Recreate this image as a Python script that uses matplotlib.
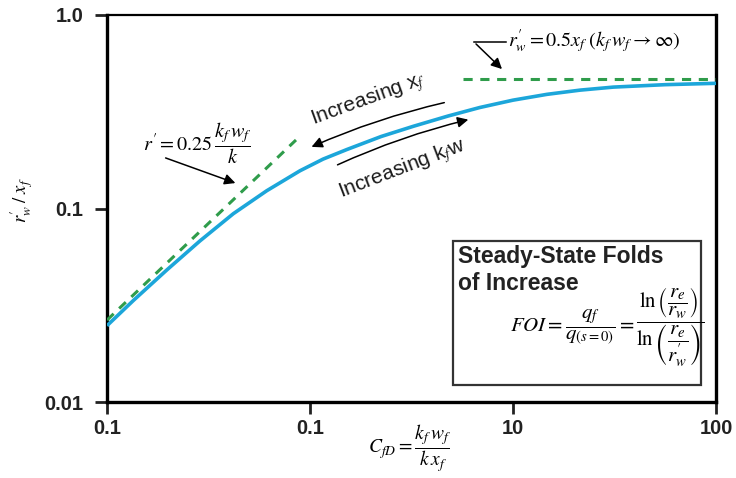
import matplotlib
matplotlib.use("Agg")
import matplotlib.pyplot as plt

# values
cfd_vals = [0.1, 0.135, 0.197, 0.287, 0.419, 0.612, 0.893, 1.16, 1.52, 2.24, 3.23,
            4.79, 6.87, 10.0, 14.7, 21.4, 31.2, 56.2, 100.0]
rw_vals = [0.0248, 0.0335, 0.0481, 0.068, 0.094, 0.1235, 0.1567, 0.180, 0.2018, 0.2355, 0.266,
           0.3006, 0.3327, 0.363, 0.389, 0.409, 0.424, 0.4365, 0.4436]

# asymptotes
low_cfd = [0.1, 0.853]
low_rw = [0.0265, 0.226]
high_cfd = [5.7, 100.0]
high_rw = [0.467, 0.467]

x_ticks = [0.1, 1, 10, 100]
x_labels = ["0.1", "0.1", "10", "100"]
y_ticks = [0.01, 0.1, 1.0]
y_labels = ["0.01", "0.1", "1.0"]

plt.rcParams["mathtext.fontset"] = "stix"
plt.rcParams["font.family"] = ["Liberation Sans", "DejaVu Sans"]

fig = plt.figure(figsize=(7.36, 4.78), dpi=100)
ax = fig.add_axes([107 / 736, 1 - 402 / 478, 609 / 736, 387 / 478])


def px(x, y):
    # pixel position in the figure -> axes fraction
    return ((x - 107) / 609, (402 - y) / 387)


ax.plot(cfd_vals, rw_vals, color="#1ca6da", lw=2.6, zorder=3, solid_capstyle="butt")
ax.plot(low_cfd, low_rw, color="#2f9c4b", lw=2.2, ls=(0, (3, 2.5)), zorder=4)
ax.plot(high_cfd, high_rw, color="#2f9c4b", lw=2.2, ls=(0, (3, 2.5)), zorder=4)

ax.set_xscale("log")
ax.set_yscale("log")
ax.set_xlim(0.1, 100)
ax.set_ylim(0.01, 1.0)
ax.set_xticks(x_ticks)
ax.set_xticklabels(x_labels)
ax.set_yticks(y_ticks)
ax.set_yticklabels(y_labels)
ax.minorticks_off()
ax.tick_params(direction="out", length=8.5, width=2, labelsize=14.5, colors="#222222")
ax.tick_params(axis="y", pad=8.5)
ax.tick_params(axis="x", pad=4)
for lab in ax.get_xticklabels() + ax.get_yticklabels():
    lab.set_fontweight("bold")
for side in ["left", "bottom", "right"]:
    ax.spines[side].set_linewidth(2.4)
ax.spines["top"].set_linewidth(1.6)

fig.text(410 / 736, 1 - 448 / 478, r"$C_{fD}=\dfrac{k_f\,w_f}{k\,x_f}$", fontsize=14,
         ha="center", va="center")
fig.text(22 / 736, 1 - 200 / 478, r"$r^{\prime}_{w}\;/\;x_f$", fontsize=13.5, rotation=90,
         ha="center", va="center")

arrow = dict(arrowstyle="-|>", color="black", lw=1.1, mutation_scale=16)

# low CfD asymptote label
ax.text(*px(197, 143), r"$r^{\prime}=0.25\,\dfrac{k_f\,w_f}{k}$", transform=ax.transAxes,
        fontsize=14.5, ha="center", va="center")
ax.annotate("", xy=px(238, 184), xytext=px(163, 157), xycoords="axes fraction",
            textcoords="axes fraction", arrowprops=arrow)

# high CfD asymptote label
ax.text(*px(508, 41), r"$r^{\prime}_{w}=0.5x_f\;(k_f\,w_f\rightarrow\infty)$", transform=ax.transAxes,
        fontsize=14.5, ha="left", va="center")
ax.plot(*zip(px(506, 42), px(474, 42)), transform=ax.transAxes, color="black", lw=1.1)
ax.annotate("", xy=px(504, 71), xytext=px(474, 42), xycoords="axes fraction",
            textcoords="axes fraction", arrowprops=arrow)

# increasing arrows
ax.text(*px(369, 100), r"Increasing x$_f$", transform=ax.transAxes, fontsize=15,
        rotation=20, ha="center", va="center", color="#1a1a1a")
ax.annotate("", xy=px(309, 148), xytext=px(447, 102), xycoords="axes fraction",
            textcoords="axes fraction",
            arrowprops=dict(arrow, connectionstyle="arc3,rad=0.05"))
ax.text(*px(403, 169), r"Increasing k$_f$w", transform=ax.transAxes, fontsize=15,
        rotation=21, ha="center", va="center", color="#1a1a1a")
ax.annotate("", xy=px(471, 119), xytext=px(335, 166), xycoords="axes fraction",
            textcoords="axes fraction",
            arrowprops=dict(arrow, connectionstyle="arc3,rad=-0.05"))

# FOI box
x0, y0 = px(453, 385)
x1, y1 = px(701, 241)
ax.add_patch(plt.Rectangle((x0, y0), x1 - x0, y1 - y0, transform=ax.transAxes,
                           fill=True, facecolor="white", edgecolor="#333333", lw=1.6, zorder=5))
ax.text(*px(458, 245), "Steady-State Folds\nof Increase", transform=ax.transAxes,
        fontsize=16.5, fontweight="bold", ha="left", va="top", color="#222222",
        linespacing=1.2, zorder=6)
ax.text(*px(634, 327), r"$FOI=\dfrac{q_f}{q_{(s=0)}}=$",
        transform=ax.transAxes, fontsize=15, ha="right", va="center", zorder=6)
ax.text(*px(636, 327),
        r"$\dfrac{\ln\left(\dfrac{r_e}{r_w}\right)}{\ln\left(\dfrac{r_e}{r^{\prime}_{w}}\right)}$",
        transform=ax.transAxes, fontsize=15, ha="left", va="center", zorder=6)

fig.savefig("out.png", dpi=100)
